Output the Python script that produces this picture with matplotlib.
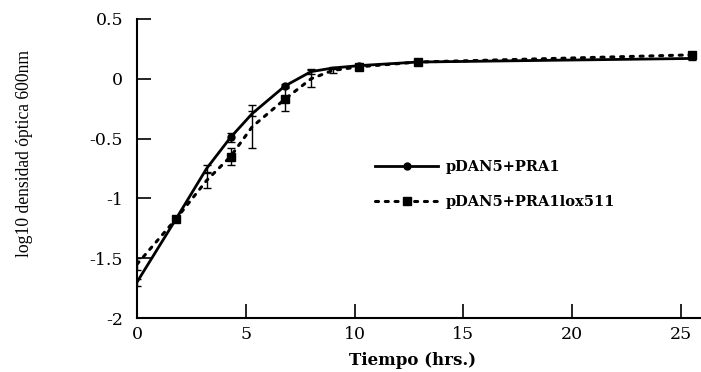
import matplotlib
matplotlib.use("Agg")
import matplotlib.pyplot as plt
from matplotlib.lines import Line2D

plt.rcParams['font.family'] = ['Liberation Serif', 'DejaVu Serif']

t = [0, 1.8, 3.2, 4.3, 5.3, 6.8, 8.0, 9.0, 10.2, 12.9, 25.5]
pra1 = [-1.70, -1.17, -0.75, -0.49, -0.29, -0.06, 0.06, 0.09, 0.11, 0.14, 0.17]
pra1_err = [0.03, 0.02, 0.03, 0.04, 0.02, 0.02, 0.02, 0.01, 0.01, 0.01, 0.01]
lox = [-1.55, -1.17, -0.85, -0.65, -0.40, -0.17, 0.00, 0.07, 0.10, 0.14, 0.20]
lox_err = [0.05, 0.02, 0.06, 0.07, 0.18, 0.10, 0.07, 0.02, 0.01, 0.01, 0.01]
labels = ['pDAN5+PRA1', 'pDAN5+PRA1lox511']
xticks = [0, 5, 10, 15, 20, 25]
yticks = [-2, -1.5, -1, -0.5, 0, 0.5]
yticklabels = ['-2', '-1.5', '-1', '-0.5', '0', '0.5']

fig = plt.figure(figsize=(7.01, 3.72), dpi=100)
ax = fig.add_axes([0.1954, 0.145, 0.804, 0.804])

dot_ls = (0, (1, 2.2))
ax.errorbar(t, pra1, yerr=pra1_err, color='black', lw=2.0, ls='-',
            marker='o', ms=5, markevery=[3, 5, 8, 9], capsize=3, elinewidth=1)
ax.errorbar(t, lox, yerr=lox_err, color='black', lw=2.2, ls=dot_ls,
            marker='s', ms=6, markevery=[1, 3, 5, 8, 9, 10], capsize=3, elinewidth=1,
            dash_capstyle='round')

ax.set_xlim(0, 25.9)
ax.set_ylim(-2, 0.5)
ax.set_xticks(xticks)
ax.set_yticks(yticks)
ax.set_yticklabels(yticklabels)
ax.tick_params(direction='in', length=10, width=1.2, labelsize=12.5)
ax.tick_params(axis='y', pad=10)
ax.tick_params(axis='x', pad=6)
for lab in ax.get_xticklabels() + ax.get_yticklabels():
    lab.set_family('DejaVu Serif')
ax.spines['top'].set_visible(False)
ax.spines['right'].set_visible(False)
for s in ['left', 'bottom']:
    ax.spines[s].set_linewidth(1.5)

ax.set_xlabel('Tiempo (hrs.)', fontsize=12, fontweight='bold', family='DejaVu Serif')
ax.xaxis.set_label_coords((412 - 137) / 563, (318 - 352) / 299)
ax.set_ylabel('log10 densidad óptica 600nm', fontsize=12.7)
ax.yaxis.set_label_coords(-0.185, 0.552)

handles = [
    Line2D([], [], color='black', lw=2.0, ls='-', marker='o', ms=5),
    Line2D([], [], color='black', lw=2.2, ls=dot_ls, marker='s', ms=6,
           dash_capstyle='round'),
]
ax.legend(handles, labels, loc='center left', bbox_to_anchor=(0.423, 0.446),
          frameon=False, borderaxespad=0, borderpad=0,
          handlelength=4.3, handletextpad=0.5, labelspacing=1.4,
          prop={'family': 'DejaVu Serif', 'weight': 'bold', 'size': 10.5})

fig.savefig('out.png', dpi=100)
